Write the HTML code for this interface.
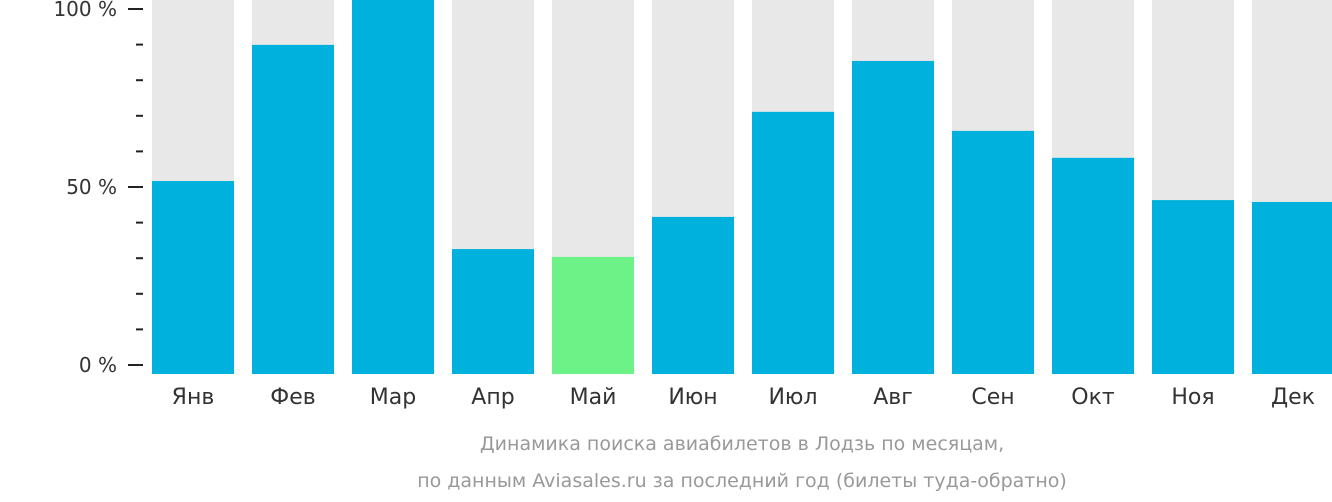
<!DOCTYPE html>
<html><head><meta charset="utf-8"><style>
body{margin:0;background:#fff;width:1332px;height:502px;overflow:hidden;font-family:"DejaVu Sans","Liberation Sans",sans-serif;}
svg{display:block}
</style></head><body>
<svg id="chart" width="1332" height="502" xmlns="http://www.w3.org/2000/svg"></svg>
<script>
const months=["Янв","Фев","Мар","Апр","Май","Июн","Июл","Авг","Сен","Окт","Ноя","Дек"];
const values=[51.6,88.0,100,33.4,31.3,42.0,70.1,83.7,65.0,57.8,46.5,46.0];
const highlight=[false,false,false,false,true,false,false,false,false,false,false,false];
const tickLabels=["0 %","50 %","100 %"];
const tickValues=[0,50,100];
const svg=document.getElementById('chart');
const NS='http://www.w3.org/2000/svg';
const barTop=0,barBottom=374,x0=152,step=100,bw=82;
const axTop=9,axBottom=365;
function yBar(v){return barBottom-(barBottom-barTop)*v/100;}
function yAx(v){return axBottom-(axBottom-axTop)*v/100;}
function mk(tag,attrs){const e=document.createElementNS(NS,tag);for(const k in attrs)e.setAttribute(k,attrs[k]);svg.appendChild(e);return e;}
months.forEach((m,i)=>{
  const x=x0+i*step;
  const bg=mk('rect',{x:x,y:barTop,width:bw,height:barBottom-barTop,fill:'#e8e8e8'});
  
  
  const b=mk('rect',{x:x,y:yBar(values[i]),width:bw,height:barBottom-yBar(values[i]),fill:highlight[i]?'#6cf286':'#00b1dd'});
  
  
  const t=mk('text',{x:x+bw/2,y:404,'text-anchor':'middle','font-size':22,fill:'#333'});
  t.textContent=m;
  
  
});
for(let k=0;k<=10;k++){
  const v=k*10,y=yAx(v),major=(v%50===0);
  const l=mk('line',{x1:major?128:136,x2:143,y1:y,y2:y,stroke:'#222','stroke-width':2});
  
  
}
tickValues.forEach((v,i)=>{
  const t=mk('text',{x:117,y:yAx(v)+7,'text-anchor':'end','font-size':20,fill:'#333'});
  t.textContent=tickLabels[i];
  
  
});
const c1=mk('text',{x:742,y:450,'text-anchor':'middle','font-size':19,fill:'#999'});
c1.textContent='Динамика поиска авиабилетов в Лодзь по месяцам,';


const c2=mk('text',{x:742,y:487,'text-anchor':'middle','font-size':19,fill:'#999'});
c2.textContent='по данным Aviasales.ru за последний год (билеты туда-обратно)';


</script>
</body></html>
